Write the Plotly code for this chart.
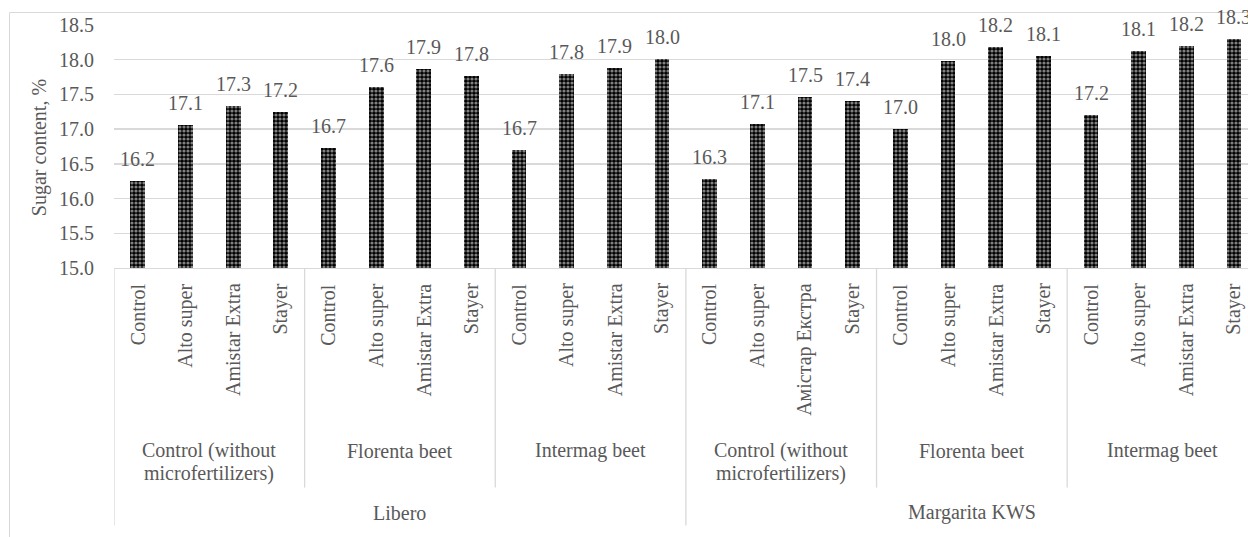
import plotly.graph_objects as go

# ---- data ----
varieties = ["Libero", "Margarita KWS"]
fertilizers = ["Control (without\nmicrofertilizers)", "Florenta beet", "Intermag beet",
               "Control (without\nmicrofertilizers)", "Florenta beet", "Intermag beet"]
treatments = ["Control", "Alto super", "Amistar Extra", "Stayer",
              "Control", "Alto super", "Amistar Extra", "Stayer",
              "Control", "Alto super", "Amistar Extra", "Stayer",
              "Control", "Alto super", "Амістар Екстра", "Stayer",
              "Control", "Alto super", "Amistar Extra", "Stayer",
              "Control", "Alto super", "Amistar Extra", "Stayer"]
sugar = [16.25, 17.06, 17.33, 17.24,
         16.73, 17.61, 17.86, 17.76,
         16.70, 17.79, 17.88, 18.01,
         16.28, 17.08, 17.46, 17.40,
         17.00, 17.98, 18.18, 18.06,
         17.20, 18.13, 18.20, 18.30]
y_ticks = [15.0, 15.5, 16.0, 16.5, 17.0, 17.5, 18.0, 18.5]

# ---- layout geometry (pixels) ----
W, H = 1248, 537
L, T = 114, 25
PLOT_BOTTOM = 267.7
PW = W - L
PH = PLOT_BOTTOM - T
FONT = "Liberation Serif"
GREY = "#595959"
LINE = "#d9d9d9"

def px_x(p):
    return (p - L) / PW

def px_y(p):
    return (PLOT_BOTTOM - p) / PH

n = len(sugar)
xs = list(range(n))
per_fert = 4
per_var = n // len(varieties)

fig = go.Figure()
fig.add_trace(go.Bar(
    x=xs, y=sugar, width=0.31,
    marker=dict(color="black",
                pattern=dict(shape=".", fgcolor="white", bgcolor="black",
                             size=4, solidity=0.5),
                line=dict(width=0)),
    hoverinfo="skip", showlegend=False,
))

annotations = []
# data labels
for x, v in zip(xs, sugar):
    annotations.append(dict(x=x, y=v, xref="x", yref="y", text=f"{v:.1f}",
                            showarrow=False, yanchor="middle", yshift=22,
                            font=dict(family=FONT, size=20, color=GREY)))
# level 1: treatments (rotated)
for x, t in zip(xs, treatments):
    annotations.append(dict(x=x, y=px_y(281), xref="x", yref="paper", text=t,
                            textangle=-90, showarrow=False, yanchor="top",
                            xanchor="center",
                            font=dict(family=FONT, size=20, color=GREY)))
# level 2: fertilizers
for gi, f in enumerate(fertilizers):
    cx = gi * per_fert + (per_fert - 1) / 2
    for li, line in enumerate(f.split("\n")):
        annotations.append(dict(x=cx, y=px_y(450 + 23 * li), xref="x", yref="paper",
                                text=line, showarrow=False, yanchor="middle",
                                font=dict(family=FONT, size=20, color=GREY)))
# level 3: varieties
for vi, v in enumerate(varieties):
    cx = vi * per_var + (per_var - 1) / 2
    annotations.append(dict(x=cx, y=px_y(512), xref="x", yref="paper", text=v,
                            showarrow=False, yanchor="middle",
                            font=dict(family=FONT, size=20, color=GREY)))
# y-axis title
annotations.append(dict(x=px_x(39), y=px_y(148), xref="paper", yref="paper",
                        text="Sugar content, %", textangle=-90, showarrow=False,
                        xanchor="center", yanchor="middle",
                        font=dict(family=FONT, size=20, color=GREY)))

shapes = []
# outer chart border
shapes.append(dict(type="rect", xref="paper", yref="paper",
                   x0=px_x(9.5), x1=px_x(1265), y0=px_y(545), y1=px_y(12.5),
                   line=dict(color=LINE, width=1), layer="below"))
# category separators
for b in range(0, n + 1, per_fert):
    end = 525 if b % per_var == 0 else 487
    shapes.append(dict(type="line", xref="x", yref="paper",
                       x0=b - 0.5, x1=b - 0.5, y0=0, y1=px_y(end),
                       line=dict(color=LINE, width=1.3)))

fig.update_layout(
    width=W, height=H,
    margin=dict(l=L, r=0, t=T, b=H - PLOT_BOTTOM, pad=0),
    paper_bgcolor="white", plot_bgcolor="white",
    bargap=0,
    font=dict(family=FONT, size=20, color=GREY),
    xaxis=dict(range=[-0.5, -0.5 + PW / ((1257.8 - L) / 24)], showticklabels=False,
               showgrid=False, zeroline=False, showline=True, linecolor=LINE,
               linewidth=1.3, ticks=""),
    yaxis=dict(range=[15.0, 18.5], tickvals=y_ticks, tickformat=".1f",
               showgrid=True, gridcolor=LINE, gridwidth=1.3, zeroline=False,
               showline=False, ticks="", ticklabelstandoff=19,
               tickfont=dict(family=FONT, size=20, color=GREY)),
    annotations=annotations,
    shapes=shapes,
)

fig.write_html("out.html",
               config={"displayModeBar": False, "staticPlot": True},
               post_script="document.body.style.margin='0';"
                           "document.body.style.overflow='hidden';")
